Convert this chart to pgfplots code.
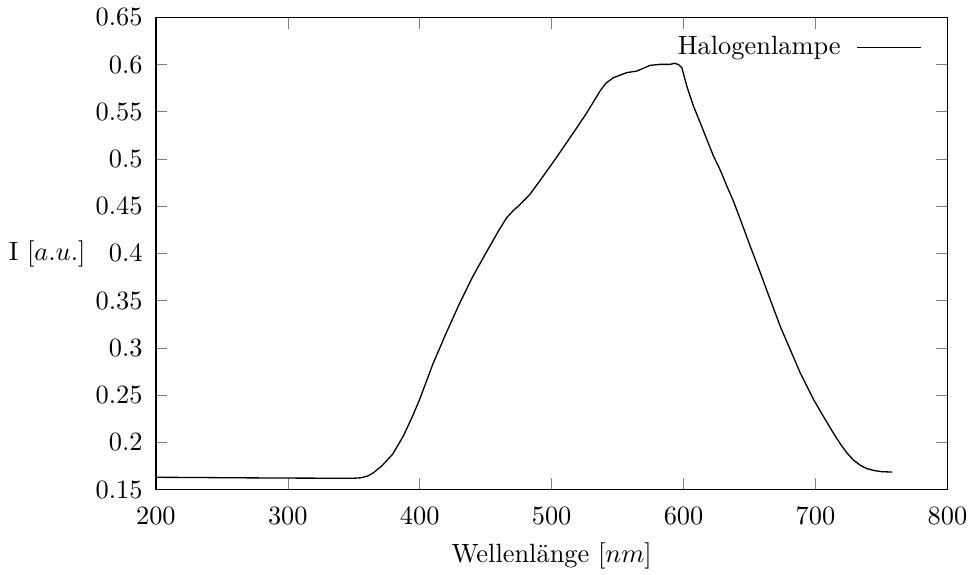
\documentclass[border=0pt]{standalone}
\usepackage{pgfplots}
\pgfplotsset{compat=1.18}
\usepackage{pgfplotstable}

% Halogenlampe spectrum
\pgfplotstableread{
nm     I
200    0.1630
228.5  0.1628
258.3  0.1625
298.1  0.1622
337.8  0.1620
349.7  0.1620
355.7  0.1625
360.7  0.1645
364.6  0.1675
371.6  0.1755
379.5  0.1875
387.5  0.2065
394.5  0.2275
399.9  0.2453
410    0.2830
420    0.3155
430    0.3465
440    0.3750
450    0.4000
460    0.4245
466    0.4380
471    0.4455
476    0.4518
483.5  0.4625
491.1  0.4770
502.5  0.4993
506.3  0.5070
516.4  0.5276
526.6  0.5488
536.6  0.5718
541    0.5800
546.8  0.5861
556.9  0.5914
564.6  0.5931
574.6  0.5991
582.3  0.6002
589.8  0.6002
593.2  0.6013
596.2  0.6000
598.7  0.5966
602.5  0.5770
607.5  0.5560
612.7  0.5382
617.7  0.5205
622.7  0.5030
627.9  0.4880
632.9  0.4710
637.9  0.4550
643.1  0.4357
650.6  0.4074
658.3  0.3791
665.8  0.3507
673.4  0.3224
681.0  0.2977
688.6  0.2730
698.7  0.2450
706.3  0.2267
713.9  0.2091
719    0.1980
724    0.1885
729    0.1810
734.2  0.1755
739    0.1722
744.2  0.1702
750    0.1690
758.1  0.1685
}\halogen

\begin{document}
\begin{tikzpicture}
\begin{axis}[
    scale only axis,
    width=300pt, height=179pt,
    xmin=200, xmax=800,
    ymin=0.15, ymax=0.65,
    xtick={200,300,400,500,600,700,800},
    ytick={0.15,0.2,0.25,0.3,0.35,0.4,0.45,0.5,0.55,0.6,0.65},
    yticklabel style={/pgf/number format/fixed, xshift=-1.5pt},
    xticklabel style={yshift=-3.3pt},
    xlabel={Wellenlänge [$nm$]},
    xlabel style={inner ysep=2pt, yshift=-1.3pt},
    ylabel={I [$a.u.$]},
    ylabel style={rotate=-90, anchor=east, xshift=3pt},
    legend plot pos=right,
    legend cell align=right,
    legend style={draw=none, fill=none, at={(0.978,0.983)}, anchor=north east},
    legend image code/.code={\path (0cm,0cm); \draw[#1] (0.14cm,0cm) -- (0.99cm,0cm);},
    axis line style={line width=0.5pt},
    ]
\addplot[black, line width=0.5pt, mark=none] table[x=nm, y=I] {\halogen};
\addlegendentry{Halogenlampe}
\end{axis}
\end{tikzpicture}
\end{document}
